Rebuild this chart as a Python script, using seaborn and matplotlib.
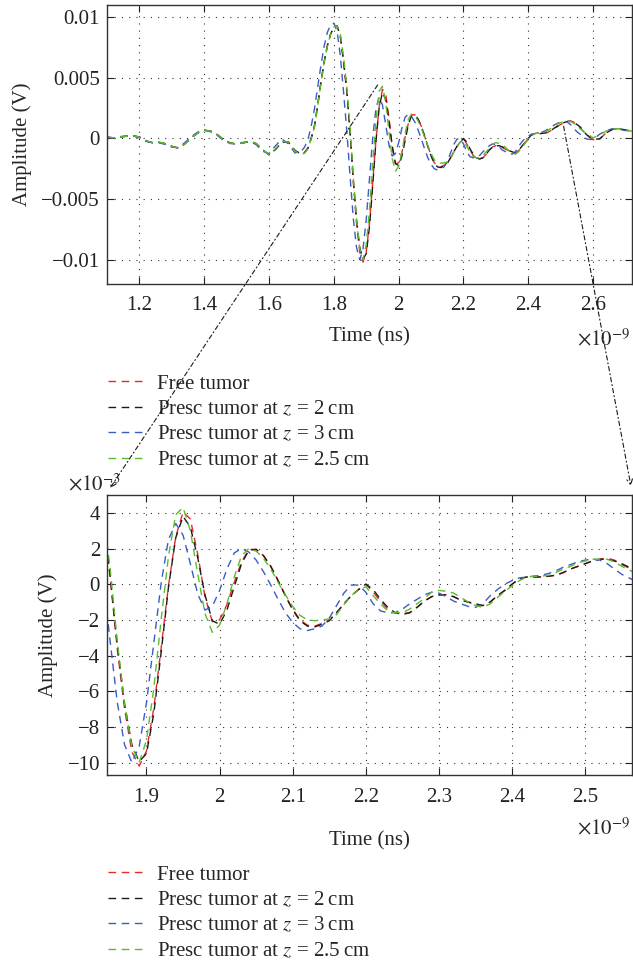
import matplotlib
matplotlib.use('Agg')
import matplotlib.pyplot as plt
from matplotlib.patches import ConnectionPatch
from matplotlib.ticker import FuncFormatter
import seaborn as sns
import numpy as np

# Время (нс) и амплитуды (мВ)
time_ns = [1.10, 1.12, 1.14, 1.16, 1.18, 1.20, 1.22, 1.24, 1.26, 1.28,
           1.30, 1.32, 1.34, 1.36, 1.38, 1.40, 1.42, 1.44, 1.46, 1.48,
           1.50, 1.52, 1.54, 1.56, 1.58, 1.60, 1.62, 1.64, 1.66, 1.68,
           1.70, 1.71, 1.72, 1.73, 1.74, 1.75, 1.76, 1.77, 1.78, 1.79,
           1.80, 1.81, 1.82, 1.83, 1.84, 1.85, 1.86, 1.87, 1.88, 1.89,
           1.90, 1.91, 1.92, 1.93, 1.94, 1.95, 1.96, 1.97, 1.98, 1.99,
           2.00, 2.01, 2.02, 2.03, 2.04, 2.05, 2.06, 2.07, 2.08, 2.09,
           2.10, 2.11, 2.12, 2.13, 2.14, 2.15, 2.16, 2.17, 2.18, 2.19,
           2.20, 2.21, 2.22, 2.23, 2.24, 2.25, 2.26, 2.27, 2.28, 2.29,
           2.30, 2.31, 2.32, 2.33, 2.34, 2.35, 2.36, 2.37, 2.38, 2.39,
           2.40, 2.41, 2.42, 2.43, 2.44, 2.45, 2.46, 2.47, 2.48, 2.49,
           2.50, 2.51, 2.52, 2.53, 2.54, 2.55, 2.56,
           2.58, 2.60, 2.62, 2.64, 2.66, 2.68, 2.70, 2.72]

free_mv = [0.10, 0.05, 0.12, 0.18, 0.22, 0.12, -0.20, -0.35, -0.32, -0.43,
           -0.65, -0.80, -0.45, 0.05, 0.45, 0.68, 0.60, 0.32, -0.10, -0.37,
           -0.46, -0.37, -0.24, -0.42, -0.93, -1.35, -0.90, -0.30, -0.30, -1.00,
           -1.30, -1.15, -0.80, 0.00, 1.00, 2.70, 4.60, 6.30, 7.65, 8.60,
           9.20, 9.30, 8.40, 6.25, 3.90, 0.50, -3.60, -7.00, -9.40, -10.20,
           -9.35, -6.95, -3.60, -0.10, 2.65, 4.05, 3.65, 1.70, -0.70, -2.10,
           -2.00, -1.15, 0.10, 1.25, 1.95, 1.95, 1.60, 1.00, 0.20, -0.65,
           -1.40, -2.00, -2.30, -2.35, -2.20, -2.00, -1.60, -1.10, -0.65, -0.30,
           0.00, -0.45, -0.95, -1.40, -1.60, -1.65, -1.60, -1.30, -0.95, -0.70,
           -0.60, -0.60, -0.70, -0.90, -1.00, -1.15, -1.20, -1.00, -0.65, -0.35,
           0.00, 0.30, 0.40, 0.45, 0.40, 0.45, 0.50, 0.65, 0.85, 1.00,
           1.15, 1.30, 1.40, 1.45, 1.35, 1.10, 0.90,
           0.25, -0.10, -0.05, 0.45, 0.75, 0.80, 0.70, 0.60]

z2_mv = [0.10, 0.05, 0.12, 0.18, 0.22, 0.12, -0.20, -0.35, -0.32, -0.43,
         -0.65, -0.80, -0.45, 0.05, 0.45, 0.68, 0.60, 0.32, -0.10, -0.37,
         -0.46, -0.37, -0.24, -0.42, -0.93, -1.35, -0.90, -0.30, -0.30, -1.00,
         -1.30, -1.15, -0.80, 0.00, 1.00, 2.70, 4.60, 6.30, 7.65, 8.60,
         9.20, 9.30, 8.45, 6.40, 3.90, 0.60, -3.40, -6.70, -9.00, -9.95,
         -9.50, -7.25, -3.85, -0.20, 2.60, 3.80, 3.20, 1.50, -0.60, -2.05,
         -2.25, -1.45, -0.15, 1.15, 1.90, 1.95, 1.60, 1.00, 0.20, -0.65,
         -1.45, -2.05, -2.35, -2.40, -2.25, -2.05, -1.60, -1.10, -0.65, -0.30,
         0.00, -0.30, -0.85, -1.30, -1.60, -1.70, -1.60, -1.30, -0.95, -0.70,
         -0.60, -0.60, -0.70, -0.90, -1.00, -1.10, -1.20, -1.00, -0.65, -0.35,
         0.00, 0.30, 0.40, 0.40, 0.40, 0.45, 0.50, 0.65, 0.85, 1.00,
         1.15, 1.30, 1.40, 1.40, 1.30, 1.15, 0.95,
         0.30, -0.05, -0.05, 0.45, 0.75, 0.80, 0.70, 0.60]

z3_mv = [0.10, 0.05, 0.15, 0.20, 0.20, 0.05, -0.25, -0.35, -0.35, -0.50,
         -0.72, -0.75, -0.35, 0.15, 0.52, 0.68, 0.55, 0.25, -0.18, -0.42,
         -0.45, -0.32, -0.25, -0.50, -1.05, -1.25, -0.60, -0.05, -0.45, -1.20,
         -1.05, -0.70, -0.10, 1.00, 2.40, 4.20, 6.00, 7.60, 8.75, 9.35,
         9.50, 8.85, 6.80, 3.80, 0.60, -3.10, -6.60, -9.00, -10.00, -9.10,
         -6.65, -3.30, 0.05, 2.50, 3.40, 2.75, 1.15, -0.55, -1.45, -1.25,
         -0.35, 0.85, 1.75, 2.00, 1.80, 1.35, 0.70, -0.05, -0.85, -1.60,
         -2.15, -2.50, -2.60, -2.50, -2.35, -1.90, -1.20, -0.50, -0.05, -0.05,
         -0.45, -1.10, -1.50, -1.60, -1.60, -1.40, -1.10, -0.85, -0.60, -0.45,
         -0.50, -0.70, -0.95, -1.10, -1.25, -1.30, -1.10, -0.65, -0.30, 0.00,
         0.20, 0.35, 0.40, 0.45, 0.50, 0.60, 0.75, 0.95, 1.10, 1.25,
         1.35, 1.40, 1.35, 1.15, 0.85, 0.55, 0.35,
         -0.05, -0.10, 0.35, 0.65, 0.80, 0.75, 0.65, 0.60]

z25_mv = [0.10, 0.05, 0.12, 0.18, 0.22, 0.12, -0.20, -0.33, -0.30, -0.43,
          -0.65, -0.80, -0.45, 0.05, 0.45, 0.68, 0.60, 0.32, -0.10, -0.37,
          -0.46, -0.37, -0.22, -0.40, -0.90, -1.35, -0.85, -0.25, -0.30, -1.05,
          -1.35, -1.20, -0.85, -0.05, 0.95, 2.65, 4.55, 6.25, 7.60, 8.60,
          9.20, 9.30, 8.60, 6.70, 4.20, 1.00, -3.20, -6.70, -9.10, -10.00,
          -8.75, -5.85, -2.00, 1.55, 3.90, 4.30, 3.00, 0.60, -1.65, -2.70,
          -2.30, -1.10, 0.40, 1.60, 2.00, 1.85, 1.45, 0.85, 0.10, -0.60,
          -1.25, -1.75, -2.00, -2.05, -2.00, -1.95, -1.70, -1.15, -0.65, -0.30,
          -0.15, -0.65, -1.10, -1.50, -1.60, -1.60, -1.40, -1.10, -0.80, -0.45,
          -0.35, -0.40, -0.50, -0.75, -1.00, -1.20, -1.30, -1.10, -0.75, -0.40,
          -0.10, 0.20, 0.40, 0.45, 0.45, 0.50, 0.65, 0.85, 1.00, 1.20,
          1.30, 1.40, 1.40, 1.40, 1.25, 1.00, 0.80,
          0.40, 0.05, 0.30, 0.60, 0.80, 0.80, 0.70, 0.60]

labels = ['Free tumor',
          'Presc tumor at $z$ = 2\u2009cm',
          'Presc tumor at $z$ = 3\u2009cm',
          'Presc tumor at $z$ = 2.5\u2009cm']
series = [free_mv, z2_mv, z3_mv, z25_mv]
colors = ['#e8292b', '#1a1a1a', '#3b5cc4', '#5cbc2c']

sns.set_style('ticks')
plt.rcParams['font.family'] = ['Liberation Serif', 'DejaVu Serif']
plt.rcParams['mathtext.fontset'] = 'stix'

FS = 15
W, H = 633, 966
DASH = (0, (5.5, 4))


def fmt(v, pos):
    return f'{v:g}'.replace('-', '\u2212')


def style_axes(ax, xlabelpad):
    ax.grid(True, linestyle=(0, (1, 5.5)), color='#333333', linewidth=0.8)
    ax.tick_params(direction='in', top=True, right=True, length=5, width=0.8,
                   labelsize=FS, colors='#222222')
    ax.tick_params(axis='x', pad=9)
    ax.tick_params(axis='y', pad=5)
    for s in ax.spines.values():
        s.set_linewidth(1.0)
        s.set_color('#333333')
    ax.xaxis.set_major_formatter(FuncFormatter(fmt))
    ax.yaxis.set_major_formatter(FuncFormatter(fmt))
    ax.set_xlabel('Time (ns)', fontsize=FS, labelpad=xlabelpad)
    ax.set_ylabel('Amplitude (V)', fontsize=FS, labelpad=7)


fig = plt.figure(figsize=(W / 100, H / 100), dpi=100)
ax_top = fig.add_axes([107 / W, 1 - 284 / H, 525 / W, 279 / H])
ax_bot = fig.add_axes([107 / W, 1 - 775 / H, 525 / W, 280 / H])

t = np.array(time_ns)
for vals, lab, col in zip(series, labels, colors):
    v = np.array(vals)
    sns.lineplot(x=t, y=v * 1e-3, ax=ax_top, color=col, label=lab, lw=1.0,
                 linestyle=DASH, sort=False, estimator=None)
    sns.lineplot(x=t, y=v, ax=ax_bot, color=col, label=lab, lw=1.0,
                 linestyle=DASH, sort=False, estimator=None)

# Верхний график
ax_top.set_xlim(1.1, 2.72)
ax_top.set_ylim(-0.012, 0.011)
ax_top.set_xticks([1.2, 1.4, 1.6, 1.8, 2.0, 2.2, 2.4, 2.6])
ax_top.set_yticks([-0.01, -0.005, 0, 0.005, 0.01])
style_axes(ax_top, 8.5)

# Нижний график (увеличенный фрагмент)
ax_bot.set_xlim(1.846, 2.564)
ax_bot.set_ylim(-10.7, 5.0)
ax_bot.set_xticks([1.9, 2.0, 2.1, 2.2, 2.3, 2.4, 2.5])
ax_bot.set_yticks([-10, -8, -6, -4, -2, 0, 2, 4])
style_axes(ax_bot, 18)

# Легенды под графиками
for ax, ytop in [(ax_top, 374), (ax_bot, 865)]:
    ax.legend(loc='upper left', bbox_to_anchor=(108 / W, 1 - ytop / H),
              bbox_transform=fig.transFigure, frameon=False, fontsize=FS,
              borderpad=0, borderaxespad=0, handlelength=1.65,
              handletextpad=0.68, labelspacing=0.28)

# Множители осей
fig.text(577 / W, 1 - 340 / H, r'$\times10^{-9}$', fontsize=FS, va='center')
fig.text(577 / W, 1 - 829 / H, r'$\times10^{-9}$', fontsize=FS, va='center')
fig.text(68 / W, 1 - 485 / H, r'$\times10^{-3}$', fontsize=FS, va='center')

# Стрелки увеличения
for xyA, xyB in [((1.935, 0.0044), (0.006, 1.025)),
                 ((2.509, 0.0010), (0.998, 1.032))]:
    con = ConnectionPatch(xyA=xyA, coordsA=ax_top.transData,
                          xyB=xyB, coordsB=ax_bot.transAxes,
                          arrowstyle='->', linestyle=(0, (4, 2.5, 1, 2.5)),
                          lw=0.8, color='#1a1a1a', mutation_scale=10)
    fig.add_artist(con)

fig.savefig('out.png', dpi=100)
